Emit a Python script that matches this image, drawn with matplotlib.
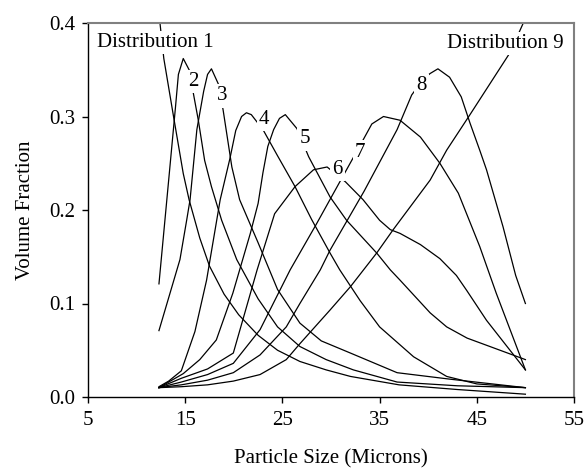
import matplotlib
matplotlib.use("Agg")
import matplotlib.pyplot as plt

plt.rcParams['font.family'] = ['Liberation Serif', 'DejaVu Serif']

# ---- data ----
d1_x = [12.3, 12.8, 13.8, 14.8, 15.4, 16.5, 17.5, 19.0, 20.5, 22.5, 24.5, 26.8, 29.5, 32.0, 37.0, 43.0, 50.0]
d1_y = [0.410, 0.362, 0.300, 0.239, 0.211, 0.170, 0.140, 0.110, 0.088, 0.066, 0.050, 0.038, 0.029, 0.022, 0.013, 0.008, 0.003]

d2_x = [12.3, 13.3, 14.0, 14.3, 14.8, 15.5, 15.8, 16.35, 17.0, 17.7, 18.75, 20.3, 22.5, 24.5, 26.8, 29.5, 32.3, 36.8, 43.0, 50.0]
d2_y = [0.121, 0.232, 0.310, 0.345, 0.362, 0.348, 0.327, 0.296, 0.253, 0.225, 0.189, 0.147, 0.105, 0.075, 0.054, 0.040, 0.029, 0.016, 0.012, 0.010]

d3_x = [12.3, 14.46, 15.15, 15.5, 16.2, 16.9, 17.3, 17.7, 18.4, 18.9, 19.8, 20.6, 22.5, 24.5, 26.8, 29.0, 32.0, 36.8, 42.3, 50.0]
d3_y = [0.071, 0.147, 0.189, 0.211, 0.286, 0.327, 0.345, 0.351, 0.335, 0.307, 0.246, 0.211, 0.165, 0.115, 0.079, 0.060, 0.047, 0.026, 0.019, 0.010]

d4_x = [12.3, 13.3, 14.6, 16.0, 17.2, 18.6, 19.6, 20.2, 20.8, 21.3, 21.8, 23.0, 24.5, 26.3, 28.0, 29.9, 30.9, 33.0, 35.0, 38.5, 41.9, 45.0, 50.0]
d4_y = [0.011, 0.017, 0.028, 0.070, 0.125, 0.211, 0.255, 0.285, 0.300, 0.304, 0.302, 0.286, 0.258, 0.225, 0.190, 0.154, 0.136, 0.103, 0.075, 0.043, 0.022, 0.014, 0.010]

d5_x = [12.3, 14.8, 16.5, 18.2, 19.9, 21.7, 22.5, 23.0, 23.5, 24.1, 24.7, 25.3, 26.5, 27.7, 29.9, 31.6, 34.7, 36.1, 37.1, 40.2, 41.9, 44.0, 50.0]
d5_y = [0.010, 0.025, 0.040, 0.061, 0.111, 0.175, 0.207, 0.240, 0.268, 0.286, 0.298, 0.302, 0.287, 0.257, 0.214, 0.189, 0.154, 0.136, 0.125, 0.090, 0.075, 0.063, 0.040]

d6_x = [12.3, 14.6, 17.3, 19.95, 22.4, 24.2, 26.3, 28.2, 29.6, 31.5, 33.3, 35.0, 36.1, 37.1, 39.2, 41.2, 42.9, 43.96, 46.0, 50.0]
d6_y = [0.010, 0.020, 0.030, 0.047, 0.136, 0.196, 0.225, 0.243, 0.246, 0.230, 0.211, 0.189, 0.179, 0.175, 0.163, 0.148, 0.130, 0.114, 0.082, 0.029]

d7_x = [12.3, 14.6, 17.3, 19.95, 22.7, 25.8, 28.5, 30.9, 33.2, 34.2, 35.4, 37.1, 39.2, 41.2, 43.1, 45.3, 47.0, 50.0]
d7_y = [0.010, 0.016, 0.024, 0.036, 0.072, 0.136, 0.185, 0.230, 0.273, 0.292, 0.300, 0.296, 0.278, 0.250, 0.218, 0.161, 0.111, 0.029]

d8_x = [12.3, 14.6, 17.3, 19.95, 22.7, 25.4, 26.8, 28.9, 29.9, 33.4, 36.8, 38.3, 39.5, 40.2, 41.0, 42.2, 43.4, 44.3, 45.3, 46.0, 47.7, 49.0, 50.0]
d8_y = [0.010, 0.013, 0.018, 0.026, 0.045, 0.075, 0.100, 0.136, 0.157, 0.220, 0.286, 0.323, 0.340, 0.346, 0.351, 0.342, 0.321, 0.293, 0.264, 0.243, 0.182, 0.130, 0.100]

d9_x = [12.3, 14.6, 17.3, 19.95, 22.7, 25.4, 26.8, 29.9, 32.0, 34.7, 36.4, 40.2, 41.9, 44.3, 48.4, 50.0]
d9_y = [0.010, 0.011, 0.013, 0.017, 0.024, 0.040, 0.057, 0.093, 0.118, 0.154, 0.179, 0.232, 0.264, 0.302, 0.368, 0.405]

series_x = [d1_x, d2_x, d3_x, d4_x, d5_x, d6_x, d7_x, d8_x, d9_x]
series_y = [d1_y, d2_y, d3_y, d4_y, d5_y, d6_y, d7_y, d8_y, d9_y]

label_texts = ["Distribution 1", "2", "3", "4", "5", "6", "7", "8", "Distribution 9"]
label_x = [5.9, 15.83, 18.85, 23.1, 27.3, 30.65, 33.0, 39.3, 53.9]
label_y = [0.379, 0.337, 0.322, 0.297, 0.276, 0.243, 0.262, 0.333, 0.378]
label_ha = ["left", "center", "center", "center", "center", "center", "center", "center", "right"]

x_ticks = [5, 15, 25, 35, 45, 55]
y_ticks = [0.0, 0.1, 0.2, 0.3, 0.4]

# ---- figure ----
fig = plt.figure(figsize=(5.85, 4.72), dpi=100)
ax = fig.add_axes([88/585, 1-397/472, (574-88)/585, (397-23)/472])

for xs, ys in zip(series_x, series_y):
    ax.plot(xs, ys, color='black', lw=0.9, zorder=2)

for t, x, y, ha in zip(label_texts, label_x, label_y, label_ha):
    ax.text(x, y, t, ha=ha, va='center', fontsize=15, zorder=5,
            bbox=dict(facecolor='white', edgecolor='none', pad=1.5))

ax.set_xlim(5, 55)
ax.set_ylim(0, 0.4)
ax.set_xticks(x_ticks)
ax.set_yticks(y_ticks)
ax.set_xticklabels([str(v) for v in x_ticks])
ax.set_yticklabels([f"{v:.1f}" for v in y_ticks])
ax.tick_params(axis='both', direction='out', length=4, width=1, labelsize=15, pad=5)
ax.tick_params(axis='x', pad=6)

for s in ['top', 'right']:
    ax.spines[s].set_color('#808080')
    ax.spines[s].set_linewidth(1.5)
for s in ['left', 'bottom']:
    ax.spines[s].set_color('black')
    ax.spines[s].set_linewidth(1.0)

ax.set_xlabel("Particle Size (Microns)", fontsize=15, labelpad=14)
ax.set_ylabel("Volume Fraction", fontsize=15, labelpad=10)

fig.savefig("out.png", dpi=100)
